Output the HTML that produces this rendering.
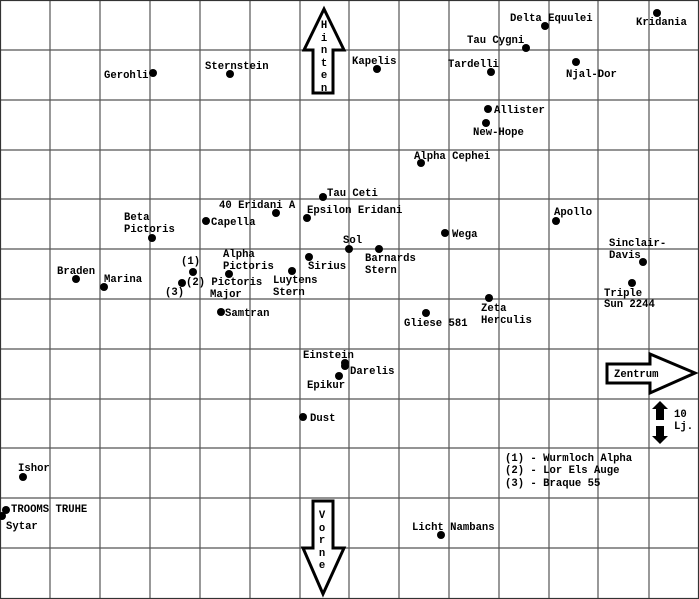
<!DOCTYPE html>
<html><head><meta charset="utf-8"><style>
html,body{margin:0;padding:0;background:#fff;}
svg{display:block;}
text{font-family:"Liberation Mono",monospace;font-weight:bold;font-size:10.6px;fill:#000;}
</style></head><body>
<svg width="699" height="599" viewBox="0 0 699 599" xmlns="http://www.w3.org/2000/svg">
<rect x="0" y="0" width="699" height="599" fill="#fff"/>
<g stroke="#555" stroke-width="1.2">
<line x1="50" y1="0" x2="50" y2="599"/><line x1="100" y1="0" x2="100" y2="599"/><line x1="150" y1="0" x2="150" y2="599"/><line x1="200" y1="0" x2="200" y2="599"/><line x1="250" y1="0" x2="250" y2="599"/><line x1="300" y1="0" x2="300" y2="599"/><line x1="349" y1="0" x2="349" y2="599"/><line x1="399" y1="0" x2="399" y2="599"/><line x1="449" y1="0" x2="449" y2="599"/><line x1="499" y1="0" x2="499" y2="599"/><line x1="549" y1="0" x2="549" y2="599"/><line x1="598" y1="0" x2="598" y2="599"/><line x1="649" y1="0" x2="649" y2="599"/>
<line x1="0" y1="50" x2="699" y2="50"/><line x1="0" y1="100" x2="699" y2="100"/><line x1="0" y1="150" x2="699" y2="150"/><line x1="0" y1="199" x2="699" y2="199"/><line x1="0" y1="249" x2="699" y2="249"/><line x1="0" y1="299" x2="699" y2="299"/><line x1="0" y1="349" x2="699" y2="349"/><line x1="0" y1="399" x2="699" y2="399"/><line x1="0" y1="448" x2="699" y2="448"/><line x1="0" y1="498" x2="699" y2="498"/><line x1="0" y1="548" x2="699" y2="548"/>
</g>
<rect x="0.5" y="0.5" width="698" height="598" fill="none" stroke="#333" stroke-width="1.2"/>
<g fill="#fff" stroke="#000" stroke-width="3" stroke-linejoin="miter">
<polygon points="324,9 344,50 333,50 333,93 313,93 313,50 304,50"/>
<polygon points="313,501 333,501 333,548 344,548 323,594 303,548 313,548"/>
<polygon points="607,364 650,364 650,354 695,373 650,393 650,383 607,383"/>
</g>
<g fill="#000">
<polygon points="660,401 668,409 664,409 664,420 656,420 656,409 652,409"/>
<polygon points="656,426 664,426 664,436 668,436 660,444 652,436 656,436"/>
</g>
<g text-anchor="middle">
<text x="324" y="28">H</text><text x="324" y="41">i</text><text x="324" y="53">n</text><text x="324" y="66">t</text><text x="324" y="78">e</text><text x="324" y="91">n</text>
<text x="322" y="518">V</text><text x="322" y="531">o</text><text x="322" y="543">r</text><text x="322" y="556">n</text><text x="322" y="568">e</text>
</g>
<text x="614" y="377">Zentrum</text>
<text x="674" y="417">10</text><text x="674" y="429">Lj.</text>
<g fill="#000">
<circle cx="153" cy="73" r="4"/><circle cx="230" cy="74" r="4"/><circle cx="377" cy="69" r="4"/><circle cx="491" cy="72" r="4"/><circle cx="526" cy="48" r="4"/><circle cx="545" cy="26" r="4"/><circle cx="657" cy="13" r="4"/><circle cx="576" cy="62" r="4"/><circle cx="488" cy="109" r="4"/><circle cx="486" cy="123" r="4"/><circle cx="421" cy="163" r="4"/><circle cx="323" cy="197" r="4"/><circle cx="276" cy="213" r="4"/><circle cx="307" cy="218" r="4"/><circle cx="206" cy="221" r="4"/><circle cx="152" cy="238" r="4"/><circle cx="556" cy="221" r="4"/><circle cx="445" cy="233" r="4"/><circle cx="349" cy="249" r="4"/><circle cx="379" cy="249" r="4"/><circle cx="309" cy="257" r="4"/><circle cx="229" cy="274" r="4"/><circle cx="193" cy="272" r="4"/><circle cx="182" cy="283" r="4"/><circle cx="292" cy="271" r="4"/><circle cx="76" cy="279" r="4"/><circle cx="104" cy="287" r="4"/><circle cx="643" cy="262" r="4"/><circle cx="632" cy="283" r="4"/><circle cx="489" cy="298" r="4"/><circle cx="426" cy="313" r="4"/><circle cx="221" cy="312" r="4"/><circle cx="345" cy="363" r="4"/><circle cx="345" cy="366" r="4"/><circle cx="339" cy="376" r="4"/><circle cx="303" cy="417" r="4"/><circle cx="23" cy="477" r="4"/><circle cx="6" cy="510" r="4"/><circle cx="2" cy="516" r="4"/><circle cx="441" cy="535" r="4"/>
</g>
<text x="104" y="78">Gerohli</text>
<text x="205" y="69">Sternstein</text>
<text x="352" y="64">Kapelis</text>
<text x="448" y="67">Tardelli</text>
<text x="467" y="43">Tau Cygni</text>
<text x="510" y="21">Delta Equulei</text>
<text x="636" y="25">Kridania</text>
<text x="566" y="77">Njal-Dor</text>
<text x="494" y="113">Allister</text>
<text x="473" y="135">New-Hope</text>
<text x="414" y="159">Alpha Cephei</text>
<text x="327" y="196">Tau Ceti</text>
<text x="219" y="208">40 Eridani A</text>
<text x="307" y="213">Epsilon Eridani</text>
<text x="211" y="225">Capella</text>
<text x="124" y="220">Beta</text><text x="124" y="232">Pictoris</text>
<text x="554" y="215">Apollo</text>
<text x="452" y="237">Wega</text>
<text x="343" y="243">Sol</text>
<text x="365" y="261">Barnards</text><text x="365" y="273">Stern</text>
<text x="308" y="269">Sirius</text>
<text x="223" y="257">Alpha</text><text x="223" y="269">Pictoris</text>
<text x="181" y="264">(1)</text>
<text x="186" y="285">(2) Pictoris</text><text x="210" y="297">Major</text>
<text x="165" y="295">(3)</text>
<text x="273" y="283">Luytens</text><text x="273" y="295">Stern</text>
<text x="57" y="274">Braden</text>
<text x="104" y="282">Marina</text>
<text x="609" y="246">Sinclair-</text><text x="609" y="258">Davis</text>
<text x="604" y="296">Triple</text><text x="604" y="307">Sun 2244</text>
<text x="481" y="311">Zeta</text><text x="481" y="323">Herculis</text>
<text x="404" y="326">Gliese 581</text>
<text x="225" y="316">Samtran</text>
<text x="303" y="358">Einstein</text>
<text x="350" y="374">Darelis</text>
<text x="307" y="388">Epikur</text>
<text x="310" y="421">Dust</text>
<text x="18" y="471">Ishor</text>
<text x="11" y="512">TROOMS TRUHE</text>
<text x="6" y="529">Sytar</text>
<text x="412" y="530">Licht Nambans</text>
<text x="505" y="461">(1) - Wurmloch Alpha</text>
<text x="505" y="473">(2) - Lor Els Auge</text>
<text x="505" y="486">(3) - Braque 55</text>
</svg>
</body></html>
